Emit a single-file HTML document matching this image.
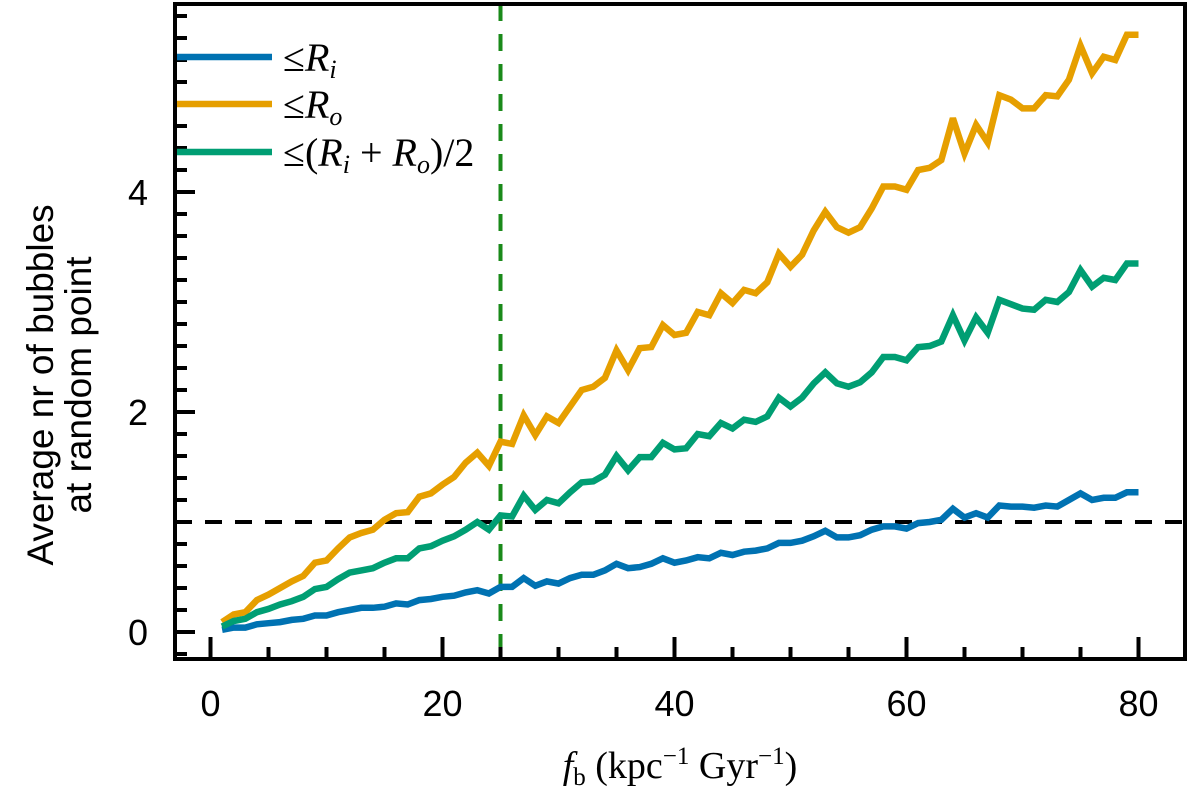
<!DOCTYPE html>
<html><head><meta charset="utf-8">
<style>
html,body{margin:0;padding:0;background:#fff;}
svg{display:block;}
text{font-family:"Liberation Sans",sans-serif;fill:#000;}
.serif{font-family:"Liberation Serif",serif;}
</style></head>
<body>
<svg id="chart" width="1200" height="792" viewBox="0 0 1200 792" xmlns="http://www.w3.org/2000/svg">
<g id="marks"></g>
<g id="axes"></g>
</svg>
<script>
const xValues = Array.from({length:80},(_, i)=>i+1);
const seriesRi = [0.02,0.04,0.04,0.07,0.08,0.09,0.11,0.12,0.15,0.15,0.18,0.20,0.22,0.22,0.23,0.26,0.25,0.29,0.30,0.32,0.33,0.36,0.38,0.35,0.41,0.41,0.49,0.42,0.46,0.44,0.49,0.52,0.52,0.56,0.62,0.58,0.59,0.62,0.67,0.63,0.65,0.68,0.67,0.72,0.70,0.73,0.74,0.76,0.81,0.81,0.83,0.87,0.92,0.86,0.86,0.88,0.93,0.96,0.96,0.94,0.99,1.00,1.02,1.12,1.04,1.08,1.04,1.15,1.14,1.14,1.13,1.15,1.14,1.20,1.26,1.20,1.22,1.22,1.27,1.27];
const seriesRo = [0.09,0.16,0.18,0.29,0.34,0.40,0.46,0.51,0.63,0.65,0.76,0.86,0.90,0.93,1.02,1.08,1.09,1.23,1.26,1.34,1.41,1.54,1.63,1.51,1.73,1.71,1.97,1.79,1.96,1.90,2.05,2.20,2.23,2.31,2.56,2.38,2.58,2.59,2.79,2.70,2.72,2.91,2.88,3.08,2.99,3.11,3.08,3.18,3.44,3.32,3.43,3.65,3.82,3.68,3.63,3.68,3.85,4.05,4.05,4.02,4.20,4.22,4.29,4.67,4.35,4.61,4.45,4.88,4.84,4.76,4.76,4.88,4.87,5.02,5.33,5.08,5.23,5.20,5.43,5.43];
const seriesMid = [0.05,0.10,0.12,0.18,0.21,0.25,0.28,0.32,0.39,0.41,0.48,0.54,0.56,0.58,0.63,0.67,0.67,0.76,0.78,0.83,0.87,0.93,1.00,0.93,1.06,1.05,1.24,1.11,1.20,1.17,1.27,1.36,1.37,1.43,1.60,1.47,1.59,1.59,1.72,1.66,1.67,1.80,1.78,1.90,1.85,1.93,1.91,1.96,2.13,2.05,2.13,2.26,2.36,2.26,2.23,2.27,2.36,2.50,2.50,2.47,2.59,2.60,2.64,2.88,2.65,2.86,2.72,3.02,2.98,2.94,2.93,3.02,3.00,3.09,3.29,3.14,3.22,3.20,3.35,3.35];
const xTickLabels = [0,20,40,60,80];
const yTickLabels = [0,2,4];
const hLineValue = 1;
const vLineValue = 25;

const L=175,R=1185,T=4,B=659;
const X0=210.5,XS=11.6, Y0=632,YS=110;
function sx(v){return X0+v*XS;}
function sy(v){return Y0-v*YS;}
const NS='http://www.w3.org/2000/svg';
function mk(tag,attrs,parent){const e=document.createElementNS(NS,tag);for(const k in attrs)e.setAttribute(k,attrs[k]);parent.appendChild(e);return e;}
const marks=document.getElementById('marks'), axes=document.getElementById('axes');

const hl=mk('line',{x1:L,x2:R,y1:sy(hLineValue),y2:sy(hLineValue),stroke:'#000','stroke-width':4,'stroke-dasharray':'17 13'},marks);


const vl=mk('line',{x1:sx(vLineValue),x2:sx(vLineValue),y1:T,y2:B,stroke:'#1a8a1a','stroke-width':4,'stroke-dasharray':'17 13'},marks);



function series(vals,color,name){
  const d=vals.map((v,i)=>(i?'L':'M')+sx(xValues[i]).toFixed(1)+' '+sy(v).toFixed(1)).join(' ');
  const p=mk('path',{d:d,fill:'none',stroke:color,'stroke-width':6.5,'stroke-linejoin':'miter','stroke-miterlimit':3},marks);
  
  
}
series(seriesRi,'#0072B2','series-le-ri');
series(seriesRo,'#E69F00','series-le-ro');
series(seriesMid,'#009E73','series-le-mid');

const fr=mk('rect',{x:L,y:T,width:R-L,height:B-T,fill:'none',stroke:'#000','stroke-width':4},axes);



for(let v=0;v<=80;v+=5){
  const major=v%20===0, len=major?22:12;
  const t=mk('line',{x1:sx(v),x2:sx(v),y1:B,y2:B-len,stroke:'#000','stroke-width':4},axes);
  
  
}
xTickLabels.forEach(v=>{
  const t=mk('text',{x:sx(v),y:716,'font-size':36,'text-anchor':'middle'},axes);
  t.textContent=v;
  
  
});
for(let k=-1;k<=28;k++){
  const v=k*0.2, y=sy(v);
  if(y<T+2||y>B-2) continue;
  const major=k%10===0, len=major?20:12;
  const t=mk('line',{x1:L,x2:L+len,y1:y,y2:y,stroke:'#000','stroke-width':4},axes);
  
  
}
yTickLabels.forEach(v=>{
  const t=mk('text',{x:148,y:sy(v)+13,'font-size':36,'text-anchor':'end'},axes);
  t.textContent=v;
  
  
});
</script>
<svg style="position:absolute;left:0;top:0" width="1200" height="792">
  <g transform="translate(58,385) rotate(-90)">
    <text x="0" y="-5" font-size="37" text-anchor="middle">Average nr of bubbles</text>
    <text x="0" y="33" font-size="37" text-anchor="middle">at random point</text>
  </g>
  <text class="serif" x="680" y="778" font-size="38" text-anchor="middle"><tspan font-style="italic">f</tspan><tspan font-size="25" dy="7">b</tspan><tspan dy="-7"> (kpc</tspan><tspan font-size="25" dy="-14">−1</tspan><tspan dy="14"> Gyr</tspan><tspan font-size="25" dy="-14">−1</tspan><tspan dy="14">)</tspan></text>
  <g>
    <line x1="177" x2="272" y1="57" y2="57" stroke="#0072B2" stroke-width="6.5"/>
    <text class="serif" x="283" y="71" font-size="40">≤<tspan font-style="italic">R</tspan><tspan font-style="italic" font-size="26" dy="7">i</tspan></text>
    <line x1="177" x2="272" y1="104" y2="104" stroke="#E69F00" stroke-width="6.5"/>
    <text class="serif" x="283" y="118" font-size="40">≤<tspan font-style="italic">R</tspan><tspan font-style="italic" font-size="26" dy="7">o</tspan></text>
    <line x1="177" x2="272" y1="152" y2="152" stroke="#009E73" stroke-width="6.5"/>
    <text class="serif" x="283" y="166" font-size="40">≤(<tspan font-style="italic">R</tspan><tspan font-style="italic" font-size="26" dy="7">i</tspan><tspan dy="-7"> + </tspan><tspan font-style="italic">R</tspan><tspan font-style="italic" font-size="26" dy="7">o</tspan><tspan dy="-7">)/2</tspan></text>
  </g>
</svg>
</body></html>
